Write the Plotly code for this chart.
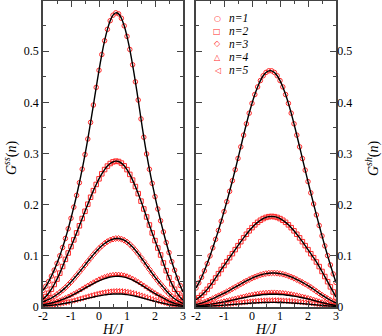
import plotly.graph_objects as go

H = [-2.0, -1.9, -1.8, -1.7, -1.6, -1.5, -1.4, -1.3, -1.2, -1.1, -1.0, -0.9, -0.8, -0.7, -0.6, -0.5, -0.4, -0.3, -0.2, -0.1,
     0.0, 0.1, 0.2, 0.3, 0.4, 0.5, 0.6, 0.7, 0.8, 0.9, 1.0, 1.1, 1.2, 1.3, 1.4, 1.5, 1.6, 1.7, 1.8, 1.9,
     2.0, 2.1, 2.2, 2.3, 2.4, 2.5, 2.6, 2.7, 2.8, 2.9, 3.0]

# ---- G^ss(n) (left panel) ----
ss_n1 = [0.0324, 0.0405, 0.0497, 0.0603, 0.0721, 0.0854, 0.1001, 0.1163, 0.1339, 0.1529, 0.1734, 0.1952, 0.2182, 0.2429,
         0.2694, 0.2979, 0.3283, 0.3608, 0.3947, 0.4292, 0.4626, 0.4934, 0.5204, 0.5426, 0.5595, 0.5703, 0.5749, 0.5729,
         0.5643, 0.5495, 0.5289, 0.5033, 0.4734, 0.4401, 0.4045, 0.3675, 0.3318, 0.2991, 0.2692, 0.2416, 0.2157, 0.1915,
         0.1685, 0.1467, 0.1260, 0.1064, 0.0886, 0.0719, 0.0564, 0.0420, 0.0294]
ss_n2 = [0.0150, 0.0204, 0.0269, 0.0348, 0.0440, 0.0545, 0.0662, 0.0791, 0.0931, 0.1055, 0.1180, 0.1312, 0.1448, 0.1587,
         0.1729, 0.1870, 0.2009, 0.2145, 0.2274, 0.2395, 0.2505, 0.2603, 0.2686, 0.2754, 0.2804, 0.2836, 0.2850, 0.2843,
         0.2812, 0.2759, 0.2685, 0.2591, 0.2480, 0.2354, 0.2216, 0.2069, 0.1916, 0.1760, 0.1603, 0.1448, 0.1298, 0.1153,
         0.1016, 0.0861, 0.0710, 0.0573, 0.0452, 0.0347, 0.0260, 0.0188, 0.0132]
ss_n3 = [0.01010, 0.01223, 0.01470, 0.01753, 0.02074, 0.02437, 0.02843, 0.03294, 0.03787, 0.04323, 0.04898, 0.05509,
         0.06152, 0.06819, 0.07504, 0.08197, 0.08890, 0.09570, 0.10228, 0.10851, 0.11429, 0.11950, 0.12403, 0.12781,
         0.13073, 0.13275, 0.13383, 0.13391, 0.13279, 0.13048, 0.12703, 0.12253, 0.11710, 0.11089, 0.10404, 0.09671,
         0.08907, 0.08127, 0.07349, 0.06582, 0.05842, 0.05138, 0.04477, 0.03826, 0.03170, 0.02584, 0.02066, 0.01620,
         0.01245, 0.00935, 0.00687]
ss_n4 = [0.00483, 0.00584, 0.00702, 0.00837, 0.00991, 0.01164, 0.01358, 0.01573, 0.01809, 0.02065, 0.02339, 0.02631,
         0.02938, 0.03257, 0.03584, 0.03915, 0.04246, 0.04571, 0.04885, 0.05183, 0.05459, 0.05708, 0.05924, 0.06104,
         0.06244, 0.06340, 0.06392, 0.06396, 0.06342, 0.06232, 0.06067, 0.05852, 0.05593, 0.05296, 0.04969, 0.04619,
         0.04254, 0.03882, 0.03510, 0.03144, 0.02790, 0.02454, 0.02138, 0.01827, 0.01514, 0.01234, 0.00987, 0.00774,
         0.00595, 0.00447, 0.00328]
ss_n5 = [0.00234, 0.00283, 0.00340, 0.00405, 0.00480, 0.00564, 0.00658, 0.00762, 0.00876, 0.01000, 0.01133, 0.01274,
         0.01423, 0.01578, 0.01736, 0.01896, 0.02057, 0.02214, 0.02366, 0.02510, 0.02644, 0.02765, 0.02869, 0.02957,
         0.03024, 0.03071, 0.03096, 0.03098, 0.03072, 0.03018, 0.02939, 0.02835, 0.02709, 0.02565, 0.02407, 0.02237,
         0.02061, 0.01880, 0.01700, 0.01523, 0.01352, 0.01189, 0.01036, 0.00885, 0.00733, 0.00598, 0.00478, 0.00375,
         0.00288, 0.00216, 0.00159]
ss_n4_line = [0.00452, 0.00548, 0.00658, 0.00785, 0.00929, 0.01091, 0.01273, 0.01475, 0.01696, 0.01936, 0.02193, 0.02467,
              0.02755, 0.03053, 0.03360, 0.03670, 0.03980, 0.04285, 0.04580, 0.04859, 0.05117, 0.05351, 0.05554, 0.05723,
              0.05854, 0.05944, 0.05992, 0.05996, 0.05946, 0.05842, 0.05688, 0.05486, 0.05243, 0.04965, 0.04658, 0.04330,
              0.03988, 0.03639, 0.03290, 0.02947, 0.02616, 0.02300, 0.02005, 0.01713, 0.01420, 0.01157, 0.00925, 0.00725,
              0.00557, 0.00419, 0.00308]
ss_n5_line = [0.00192, 0.00233, 0.00280, 0.00334, 0.00395, 0.00464, 0.00541, 0.00627, 0.00721, 0.00823, 0.00932, 0.01048,
              0.01171, 0.01298, 0.01428, 0.01560, 0.01692, 0.01821, 0.01946, 0.02065, 0.02175, 0.02274, 0.02360, 0.02432,
              0.02488, 0.02526, 0.02547, 0.02548, 0.02527, 0.02483, 0.02417, 0.02332, 0.02228, 0.02110, 0.01980, 0.01840,
              0.01695, 0.01547, 0.01398, 0.01253, 0.01112, 0.00978, 0.00852, 0.00728, 0.00603, 0.00492, 0.00393, 0.00308,
              0.00237, 0.00178, 0.00131]

# ---- G^sh(n) (right panel) ----
sh_n1 = [0.0372, 0.0471, 0.0582, 0.0707, 0.0848, 0.0998, 0.1156, 0.1323, 0.1496, 0.1677, 0.1865, 0.2059, 0.2261, 0.2468,
         0.2683, 0.2904, 0.3130, 0.3359, 0.3580, 0.3788, 0.3980, 0.4152, 0.4301, 0.4425, 0.4519, 0.4584, 0.4616, 0.4616,
         0.4584, 0.4519, 0.4425, 0.4301, 0.4152, 0.3980, 0.3788, 0.3580, 0.3359, 0.3130, 0.2901, 0.2675, 0.2451, 0.2230,
         0.2013, 0.1800, 0.1593, 0.1390, 0.1194, 0.1004, 0.0822, 0.0646, 0.0480]
sh_n2 = [0.01409, 0.01812, 0.02285, 0.02830, 0.03444, 0.04124, 0.04866, 0.05673, 0.06514, 0.07328, 0.08105, 0.08861,
         0.09634, 0.10420, 0.11209, 0.11994, 0.12762, 0.13509, 0.14218, 0.14887, 0.15503, 0.16059, 0.16544, 0.16951,
         0.17275, 0.17509, 0.17652, 0.17700, 0.17652, 0.17509, 0.17275, 0.16951, 0.16544, 0.16059, 0.15503, 0.14887,
         0.14218, 0.13509, 0.12762, 0.11994, 0.11209, 0.10420, 0.09634, 0.08802, 0.07900, 0.06944, 0.05953, 0.04944,
         0.03935, 0.02944, 0.01947]
sh_n3 = [0.00481, 0.00612, 0.00767, 0.00944, 0.01146, 0.01373, 0.01623, 0.01893, 0.02159, 0.02416, 0.02687, 0.02972,
         0.03266, 0.03570, 0.03878, 0.04188, 0.04497, 0.04799, 0.05092, 0.05370, 0.05631, 0.05869, 0.06081, 0.06264,
         0.06413, 0.06528, 0.06606, 0.06645, 0.06645, 0.06606, 0.06528, 0.06413, 0.06264, 0.06081, 0.05869, 0.05631,
         0.05370, 0.05092, 0.04799, 0.04497, 0.04188, 0.03844, 0.03460, 0.03073, 0.02690, 0.02318, 0.01962, 0.01631,
         0.01328, 0.01057, 0.00821]
sh_n4 = [0.00210, 0.00267, 0.00334, 0.00412, 0.00500, 0.00599, 0.00708, 0.00826, 0.00942, 0.01054, 0.01172, 0.01296,
         0.01424, 0.01557, 0.01691, 0.01826, 0.01961, 0.02093, 0.02221, 0.02342, 0.02455, 0.02559, 0.02652, 0.02732,
         0.02797, 0.02847, 0.02881, 0.02898, 0.02898, 0.02881, 0.02847, 0.02797, 0.02732, 0.02652, 0.02559, 0.02455,
         0.02342, 0.02221, 0.02093, 0.01961, 0.01826, 0.01676, 0.01509, 0.01340, 0.01173, 0.01011, 0.00856, 0.00711,
         0.00579, 0.00461, 0.00358]
sh_n5 = [0.00094, 0.00120, 0.00150, 0.00185, 0.00224, 0.00268, 0.00317, 0.00370, 0.00422, 0.00472, 0.00525, 0.00581,
         0.00639, 0.00698, 0.00758, 0.00819, 0.00879, 0.00938, 0.00995, 0.01050, 0.01101, 0.01147, 0.01189, 0.01224,
         0.01254, 0.01276, 0.01291, 0.01299, 0.01299, 0.01291, 0.01276, 0.01254, 0.01224, 0.01189, 0.01147, 0.01101,
         0.01050, 0.00995, 0.00938, 0.00879, 0.00819, 0.00752, 0.00676, 0.00601, 0.00526, 0.00453, 0.00384, 0.00319,
         0.00260, 0.00207, 0.00160]
sh_n4_line = [0.00181, 0.00230, 0.00288, 0.00355, 0.00431, 0.00516, 0.00610, 0.00712, 0.00812, 0.00908, 0.01010, 0.01117,
              0.01228, 0.01342, 0.01458, 0.01575, 0.01691, 0.01804, 0.01914, 0.02019, 0.02117, 0.02206, 0.02286, 0.02355,
              0.02411, 0.02454, 0.02484, 0.02498, 0.02498, 0.02484, 0.02454, 0.02411, 0.02355, 0.02286, 0.02206, 0.02117,
              0.02019, 0.01914, 0.01804, 0.01691, 0.01575, 0.01445, 0.01301, 0.01155, 0.01011, 0.00871, 0.00738, 0.00613,
              0.00499, 0.00398, 0.00309]
sh_n5_line = [0.00065, 0.00083, 0.00104, 0.00128, 0.00155, 0.00186, 0.00220, 0.00256, 0.00292, 0.00327, 0.00364, 0.00402,
              0.00442, 0.00483, 0.00525, 0.00567, 0.00609, 0.00650, 0.00689, 0.00727, 0.00762, 0.00794, 0.00823, 0.00848,
              0.00868, 0.00884, 0.00894, 0.00899, 0.00899, 0.00894, 0.00884, 0.00868, 0.00848, 0.00823, 0.00794, 0.00762,
              0.00727, 0.00689, 0.00650, 0.00609, 0.00567, 0.00520, 0.00468, 0.00416, 0.00364, 0.00314, 0.00266, 0.00221,
              0.00180, 0.00143, 0.00111]

series_labels = ["n=1", "n=2", "n=3", "n=4", "n=5"]
symbols = ["circle-open", "square-open", "diamond-open", "triangle-up-open", "triangle-left-open"]
legend_glyphs = ["\u25CB", "\u25A1", "\u25C7", "\u25B3", "\u25C1"]

ss_markers = [ss_n1, ss_n2, ss_n3, ss_n4, ss_n5]
ss_lines = [ss_n1, ss_n2, ss_n3, ss_n4_line, ss_n5_line]
sh_markers = [sh_n1, sh_n2, sh_n3, sh_n4, sh_n5]
sh_lines = [sh_n1, sh_n2, sh_n3, sh_n4_line, sh_n5_line]

RED = "#ff2a2a"
W, HGT = 382, 336
SERIF = "Liberation Serif"

fig = go.Figure()
for (mk, ln, xa, ya) in [(ss_markers, ss_lines, "x", "y"), (sh_markers, sh_lines, "x2", "y2")]:
    for i in range(5):
        fig.add_trace(go.Scatter(x=H, y=mk[i], mode="markers", xaxis=xa, yaxis=ya, showlegend=False,
                                 marker=dict(symbol=symbols[i], size=4.5, color=RED, line=dict(width=1, color=RED))))
    for i in range(5):
        fig.add_trace(go.Scatter(x=H, y=ln[i], mode="lines", xaxis=xa, yaxis=ya, showlegend=False,
                                 line=dict(color="black", width=1.4, shape="spline", smoothing=0.6)))

axcol = "#444444"
tfont = dict(family=SERIF, size=12, color="black")
common_x = dict(range=[-2, 3], tickvals=[-2, -1, 0, 1, 2, 3], ticktext=["-2", "-1", "0", "1", "2", "3"],
                ticks="inside", ticklen=6, tickwidth=1, tickcolor=axcol, showline=True, linecolor=axcol, linewidth=1.5,
                mirror="ticks", showgrid=False, zeroline=False, automargin=False, ticklabelstandoff=-3,
                minor=dict(tickvals=[-1.5, -0.5, 0.5, 1.5, 2.5], ticks="inside", ticklen=3.5, tickcolor=axcol),
                tickfont=tfont)
common_y = dict(range=[0, 0.598], tickvals=[0, 0.1, 0.2, 0.3, 0.4, 0.5], ticktext=["0", "0.1", "0.2", "0.3", "0.4", "0.5"],
                ticks="inside", ticklen=6, tickwidth=1, tickcolor=axcol, showline=True, linecolor=axcol, linewidth=1.5,
                mirror="ticks", showgrid=False, zeroline=False, automargin=False,
                minor=dict(tickvals=[0.05, 0.15, 0.25, 0.35, 0.45, 0.55], ticks="inside", ticklen=3.5, tickcolor=axcol),
                tickfont=tfont)

ydom = [1 - 307 / HGT, 1 - 1 / HGT]
fig.update_layout(
    width=W, height=HGT, margin=dict(l=0, r=0, t=0, b=0, autoexpand=False),
    paper_bgcolor="white", plot_bgcolor="white", showlegend=False,
    font=dict(family=SERIF),
    xaxis=dict(domain=[43 / W, 183 / W], anchor="y", **common_x),
    yaxis=dict(domain=ydom, anchor="x", **common_y),
    xaxis2=dict(domain=[196 / W, 336 / W], anchor="y2", **common_x),
    yaxis2=dict(domain=ydom, anchor="x2", side="right", **common_y),
)
fig.update_layout(yaxis2=dict(ticklabelstandoff=-3))

ann = []
tf14 = dict(family=SERIF, size=14, color="black")
ann.append(dict(text="<i>H/J</i>", x=113 / W, y=1 - 329 / HGT, xref="paper", yref="paper", showarrow=False,
                xanchor="center", yanchor="middle", font=tf14))
ann.append(dict(text="<i>H/J</i>", x=266 / W, y=1 - 329 / HGT, xref="paper", yref="paper", showarrow=False,
                xanchor="center", yanchor="middle", font=tf14))
ann.append(dict(text="<i>G</i><sup><i>ss</i></sup>(<i>n</i>)", x=10 / W, y=1 - 158 / HGT, xref="paper", yref="paper",
                showarrow=False, textangle=-90, xanchor="center", yanchor="middle", font=tf14))
ann.append(dict(text="<i>G</i><sup><i>sh</i></sup>(<i>n</i>)", x=372 / W, y=1 - 158 / HGT, xref="paper", yref="paper",
                showarrow=False, textangle=-90, xanchor="center", yanchor="middle", font=tf14))
leg_y = [18, 31, 44, 57, 70]
for i in range(5):
    ann.append(dict(text=legend_glyphs[i], x=217 / W, y=1 - leg_y[i] / HGT, xref="paper", yref="paper",
                    xanchor="center", yanchor="middle", showarrow=False,
                    font=dict(family="DejaVu Sans", size=8, color=RED)))
    ann.append(dict(text="<i>" + series_labels[i] + "</i>", x=227 / W, y=1 - leg_y[i] / HGT, xref="paper", yref="paper",
                    xanchor="left", yanchor="middle", showarrow=False, font=dict(family=SERIF, size=11.5, color="black")))
fig.update_layout(annotations=ann)

fig.write_html("out.html", config={"displayModeBar": False},
               post_script="document.body.style.margin='0px';document.body.style.padding='0px';")
